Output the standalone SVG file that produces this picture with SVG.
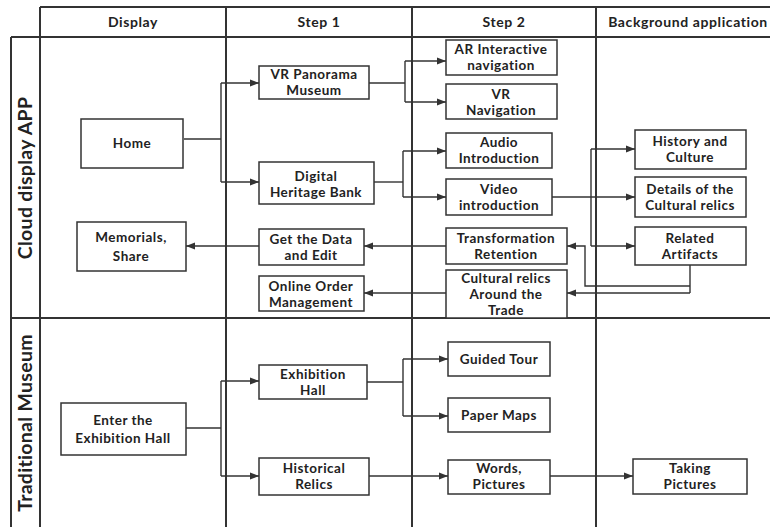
<svg xmlns="http://www.w3.org/2000/svg" width="770" height="527" viewBox="0 0 770 527">
<style>
.grid{stroke:#333;stroke-width:2;fill:none}
.box{fill:#fff;stroke:#333;stroke-width:1.5}
.t{font-family:Lato,"Open Sans","Liberation Sans",sans-serif;font-weight:700;font-size:13.5px;letter-spacing:0.5px;fill:#222;text-anchor:middle}
.h{font-family:Lato,"Open Sans","Liberation Sans",sans-serif;font-weight:700;font-size:14px;letter-spacing:0.6px;fill:#222;text-anchor:middle}
.lane{font-family:Lato,"Open Sans","Liberation Sans",sans-serif;font-weight:700;font-size:19.5px;letter-spacing:0.3px;fill:#222;text-anchor:middle}
.c{stroke:#333;stroke-width:1.4;fill:none}
</style>
<defs>
<marker id="ah" viewBox="0 0 10 10" refX="10" refY="5" markerWidth="9" markerHeight="9" markerUnits="userSpaceOnUse" orient="auto">
<path d="M0,1 L10,5 L0,9 z" fill="#333"/>
</marker>
</defs>
<rect width="770" height="527" fill="#fff"/>
<g id="grid">
<line class="grid" x1="40" y1="7" x2="770" y2="7"/>
<line class="grid" x1="11" y1="37" x2="770" y2="37"/>
<line class="grid" x1="11" y1="318" x2="770" y2="318"/>
<line class="grid" x1="11" y1="37" x2="11" y2="527"/>
<line class="grid" x1="40" y1="7" x2="40" y2="527"/>
<line class="grid" x1="226" y1="7" x2="226" y2="527"/>
<line class="grid" x1="412" y1="7" x2="412" y2="527"/>
<line class="grid" x1="596" y1="7" x2="596" y2="527"/>
<text class="h" x="133" y="27">Display</text>
<text class="h" x="319" y="27">Step 1</text>
<text class="h" x="504" y="27">Step 2</text>
<text class="h" x="688" y="27">Background application</text>
<text class="lane" transform="translate(32,178) rotate(-90)">Cloud display APP</text>
<text class="lane" transform="translate(32,423) rotate(-90)">Traditional Museum</text>
</g>
<g id="connectors">
<polyline class="c" points="184,139 221,139"/>
<polyline class="c" points="221,83 221,182"/>
<polyline class="c" points="221,83 259,83" marker-end="url(#ah)"/>
<polyline class="c" points="221,182 259,182" marker-end="url(#ah)"/>
<polyline class="c" points="369,83 405,83"/>
<polyline class="c" points="405,61 405,102"/>
<polyline class="c" points="405,61 446,61" marker-end="url(#ah)"/>
<polyline class="c" points="405,102 446,102" marker-end="url(#ah)"/>
<polyline class="c" points="374,182 403,182"/>
<polyline class="c" points="403,151 403,197"/>
<polyline class="c" points="403,151 446,151" marker-end="url(#ah)"/>
<polyline class="c" points="403,197 446,197" marker-end="url(#ah)"/>
<polyline class="c" points="552,197 635,197" marker-end="url(#ah)"/>
<polyline class="c" points="591,149 591,246"/>
<polyline class="c" points="591,149 635,149" marker-end="url(#ah)"/>
<polyline class="c" points="591,246 635,246" marker-end="url(#ah)"/>
<polyline class="c" points="690,265 690,293"/>
<polyline class="c" points="690,286 585,286 585,246 567,246" marker-end="url(#ah)"/>
<polyline class="c" points="690,293 567,293" marker-end="url(#ah)"/>
<polyline class="c" points="446,246 364,246" marker-end="url(#ah)"/>
<polyline class="c" points="446,293 364,293" marker-end="url(#ah)"/>
<polyline class="c" points="259,246 186,246" marker-end="url(#ah)"/>
<polyline class="c" points="186,428 221,428"/>
<polyline class="c" points="221,381 221,476"/>
<polyline class="c" points="221,381 259,381" marker-end="url(#ah)"/>
<polyline class="c" points="221,476 259,476" marker-end="url(#ah)"/>
<polyline class="c" points="367,382 403,382"/>
<polyline class="c" points="403,359 403,416"/>
<polyline class="c" points="403,359 448,359" marker-end="url(#ah)"/>
<polyline class="c" points="403,416 448,416" marker-end="url(#ah)"/>
<polyline class="c" points="369,476 448,476" marker-end="url(#ah)"/>
<polyline class="c" points="550,476 633,476" marker-end="url(#ah)"/>
</g>
<g id="home"><rect class="box" x="81" y="119" width="102" height="49"/><text class="t" x="132" y="148">Home</text></g>
<g id="memorials"><rect class="box" x="77" y="222" width="109" height="49"/><text class="t" x="131" y="242">Memorials,</text><text class="t" x="131" y="261">Share</text></g>
<g id="vr-panorama"><rect class="box" x="259" y="66" width="110" height="33"/><text class="t" x="314" y="79">VR Panorama</text><text class="t" x="314" y="95">Museum</text></g>
<g id="digital-heritage"><rect class="box" x="259" y="162" width="115" height="42"/><text class="t" x="316" y="181">Digital</text><text class="t" x="316" y="197">Heritage Bank</text></g>
<g id="get-data"><rect class="box" x="259" y="229" width="105" height="36"/><text class="t" x="311" y="244">Get the Data</text><text class="t" x="311" y="260">and Edit</text></g>
<g id="online-order"><rect class="box" x="259" y="276" width="105" height="35"/><text class="t" x="311" y="291">Online Order</text><text class="t" x="311" y="307">Management</text></g>
<g id="ar-nav"><rect class="box" x="446" y="40" width="111" height="35"/><text class="t" x="501" y="54">AR Interactive</text><text class="t" x="501" y="70">navigation</text></g>
<g id="vr-nav"><rect class="box" x="446" y="84" width="111" height="35"/><text class="t" x="501" y="99">VR</text><text class="t" x="501" y="115">Navigation</text></g>
<g id="audio"><rect class="box" x="446" y="133" width="106" height="35"/><text class="t" x="499" y="147">Audio</text><text class="t" x="499" y="163">Introduction</text></g>
<g id="video"><rect class="box" x="446" y="179" width="106" height="36"/><text class="t" x="499" y="194">Video</text><text class="t" x="499" y="210">introduction</text></g>
<g id="transformation"><rect class="box" x="446" y="228" width="121" height="36"/><text class="t" x="506" y="243">Transformation</text><text class="t" x="506" y="259">Retention</text></g>
<g id="cultural-trade"><rect class="box" x="446" y="270" width="121" height="48"/><text class="t" x="506" y="283">Cultural relics</text><text class="t" x="506" y="299">Around the</text><text class="t" x="506" y="315">Trade</text></g>
<g id="history"><rect class="box" x="635" y="130" width="111" height="39"/><text class="t" x="690" y="146">History and</text><text class="t" x="690" y="162">Culture</text></g>
<g id="details"><rect class="box" x="635" y="177" width="111" height="40"/><text class="t" x="690" y="194">Details of the</text><text class="t" x="690" y="210">Cultural relics</text></g>
<g id="related"><rect class="box" x="635" y="227" width="111" height="38"/><text class="t" x="690" y="243">Related</text><text class="t" x="690" y="259">Artifacts</text></g>
<g id="enter-hall"><rect class="box" x="61" y="403" width="125" height="52"/><text class="t" x="123" y="425">Enter the</text><text class="t" x="123" y="443">Exhibition Hall</text></g>
<g id="exhibition-hall"><rect class="box" x="259" y="365" width="108" height="34"/><text class="t" x="313" y="379">Exhibition</text><text class="t" x="313" y="395">Hall</text></g>
<g id="historical-relics"><rect class="box" x="259" y="458" width="110" height="37"/><text class="t" x="314" y="473">Historical</text><text class="t" x="314" y="489">Relics</text></g>
<g id="guided-tour"><rect class="box" x="448" y="342" width="102" height="34"/><text class="t" x="499" y="364">Guided Tour</text></g>
<g id="paper-maps"><rect class="box" x="448" y="398" width="102" height="34"/><text class="t" x="499" y="420">Paper Maps</text></g>
<g id="words-pictures"><rect class="box" x="448" y="460" width="102" height="34"/><text class="t" x="499" y="473">Words,</text><text class="t" x="499" y="489">Pictures</text></g>
<g id="taking-pictures"><rect class="box" x="633" y="459" width="114" height="35"/><text class="t" x="690" y="473">Taking</text><text class="t" x="690" y="489">Pictures</text></g>
</svg>
